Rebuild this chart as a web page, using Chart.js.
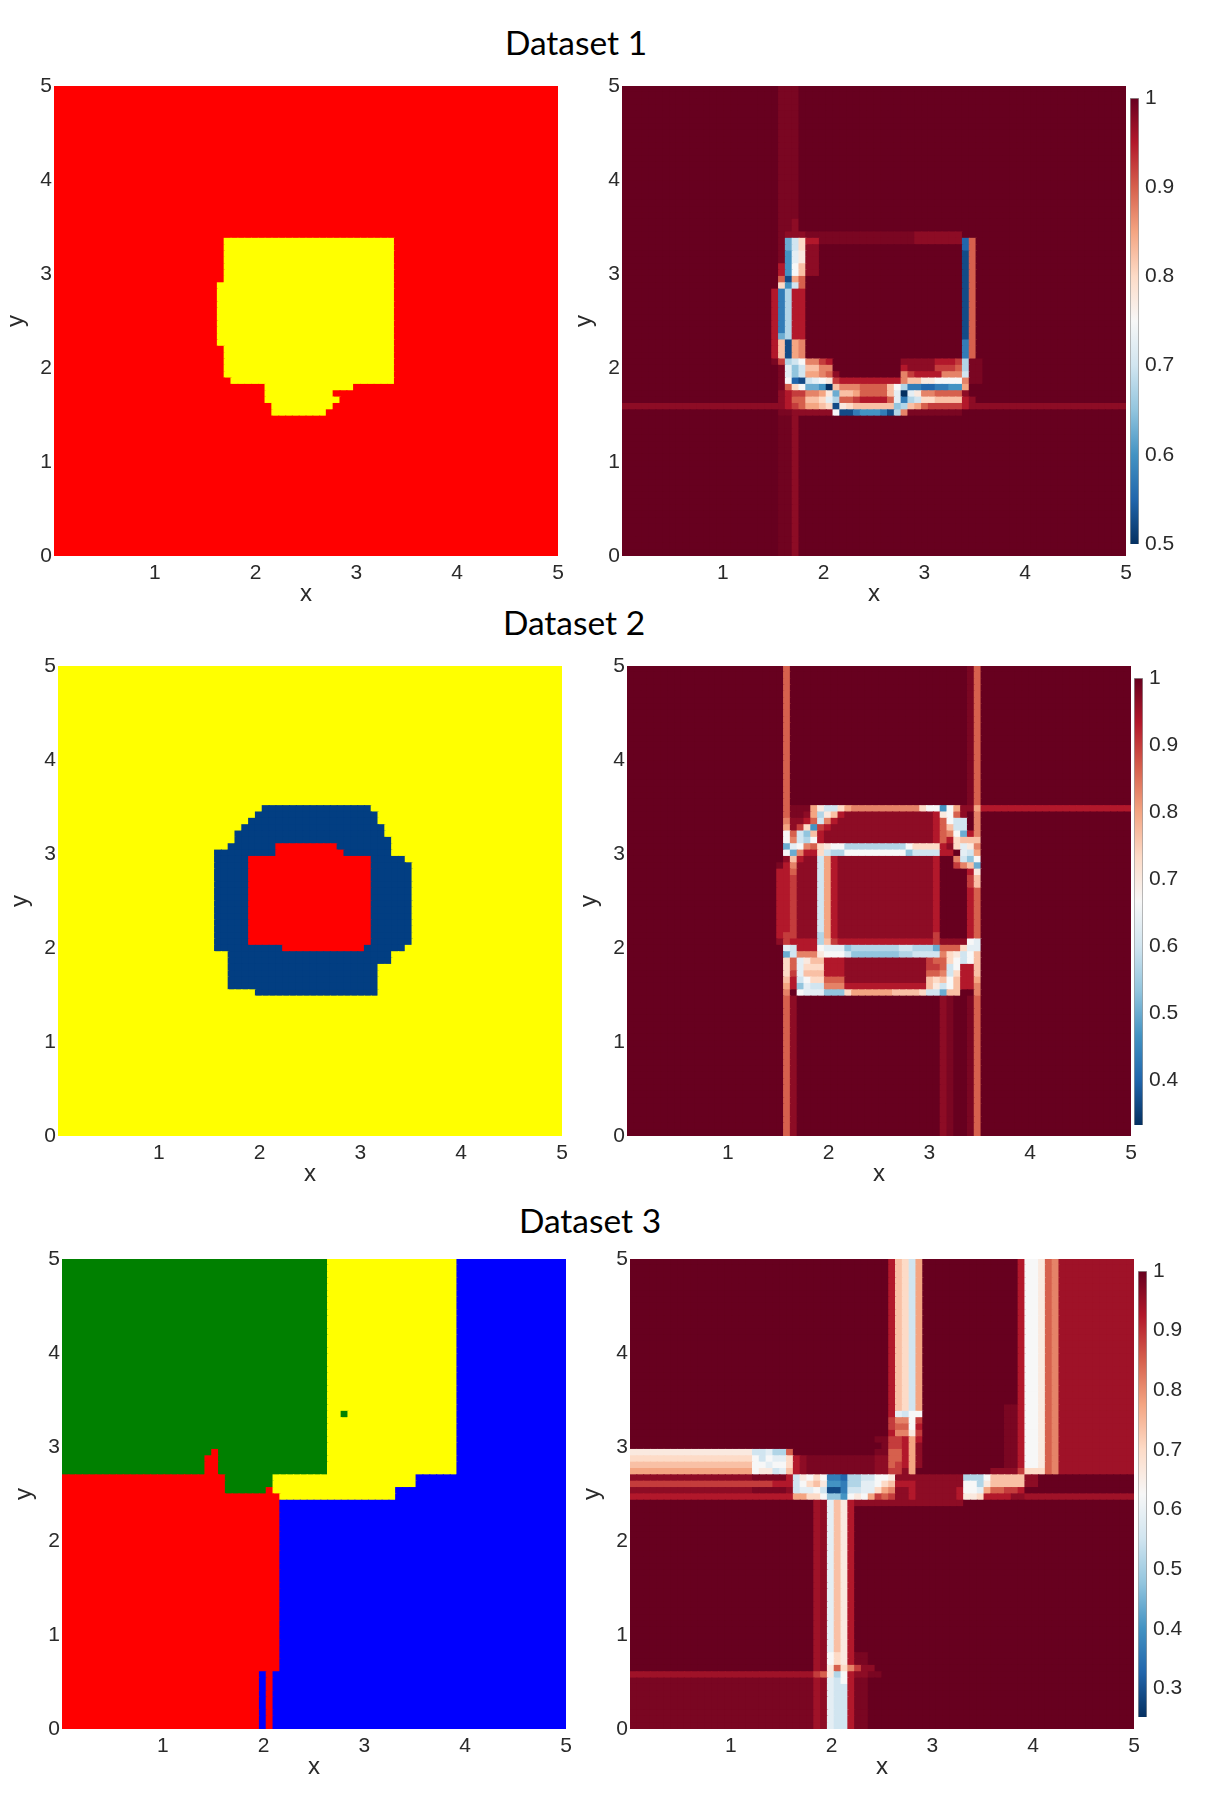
<!DOCTYPE html>
<html>
<head>
<meta charset="utf-8">
<title>Dataset 1-3 heatmaps</title>
<script src="https://cdn.jsdelivr.net/npm/chart.js@4"></script>
<style>
  body { margin: 0; background: #fff; width: 1221px; height: 1802px; position: relative; overflow: hidden; }
  canvas { position: absolute; }
  .title { position: absolute; transform: translate(-50%, -50%); font: 33.5px Lato, sans-serif; color: #000; white-space: nowrap; }
</style>
</head>
<body>
<div class="title" style="left:576px;top:42px">Dataset 1</div>
<div class="title" style="left:574px;top:622px">Dataset 2</div>
<div class="title" style="left:590px;top:1220px">Dataset 3</div>
<script>
// grid rows are [repeat, "letter+count ..."], top row first, 74 cells per row
const GRID = 74;
const AXIS_MAX = 5;

// class letters: r red, y yellow, n navy, g green, b blue
const classRows1 = [
  [24, "r74"], [7, "r25y25r24"], [10, "r24y26r24"], [5, "r25y25r24"],
  [1, "r26y24r24"], [1, "r31y13r30"], [1, "r31y10r33"], [1, "r31y11r32"],
  [1, "r32y9r33"], [1, "r32y8r34"], [22, "r74"],
];
const classRows2 = [
  [22, "y74"], [1, "y30n16y28"], [1, "y29n18y27"], [1, "y28n19y27"],
  [1, "y27n21y26"], [1, "y26n22y26"], [1, "y26n23y25"], [1, "y25n7r9n8y25"],
  [1, "y23n9r10n7y25"], [1, "y23n5r18n5y23"], [13, "y23n5r18n6y22"],
  [1, "y23n10r12n6y23"], [2, "y25n24y25"], [4, "y25n22y27"], [1, "y29n18y27"], [22, "y74"],
];
const classRows3 = [
  [24, "g39y19b16"], [1, "g39y2g1y16b16"], [5, "g39y19b16"], [1, "g22r1g16y19b16"],
  [3, "g21r2g16y19b16"], [2, "r24g7y21b22"], [1, "r24g6r1y18b25"], [1, "r32y17b25"],
  [27, "r32b42"], [9, "r29b1r1b43"],
];

// score letters: a (lowest) .. u (1), v, w and x sit between the upper steps
const scoreRows1 = [
  [21, "u23v3u48"], [2, "u23v2tu48"], [1, "u23vt3v16t7u24"],
  [1, "u23vfims2v14t7cqu22"], [1, "u23vfimt2u21cqu22"], [2, "u23vejlt2u21bqu22"],
  [2, "u23seknt2u21bqu22"], [1, "u23qboqu23bqu22"], [1, "u23meiqu23bqu22"],
  [7, "u22sdhs2u23bqu22"], [1, "u22sfhs2u23bqu22"], [3, "u22snbopu23dqu22"],
  [1, "u22vrhikp2rsu10t5s3rhv2u21"], [1, "u23vjgin2p2u10st4r3qhv2u21"],
  [1, "u23vjgio2pqtu9prs4p3iv2u21"], [1, "u23vkcbijklrs9pn2l2k4pv2u21"],
  [1, "u23vqmkf2eanp3q4nkhd2c2d2e2ou23"], [1, "u23tsr2p2olfn2oq4njajlp2q4tu23"],
  [1, "u23tsq2n2mjhq2rs4qjdhim2n4stu22"], [1, "t24srqo2nmblmn6ghnoqr5st23"],
  [1, "u23v2t6kb2de3dbhpv8u24"], [22, "u23x2tu48"],
];
const scoreRows2 = [
  [22, "u23qu26vqu22"], [1, "u23qv3oli2mop10mk2ekot2os22"], [1, "u23qv2tohlnst13slkqtupu22"],
  [1, "u23pt2sqipst14sqki2upu22"], [1, "u23otrmerst15sqni2upu22"], [1, "u23kqignst16sqpkfspu22"],
  [1, "u23kpihkst16sqsmn3u22"], [1, "u23fjkpqmlk2h9km4stmjlpu22"], [1, "u23kfps2mih2k9gi4s2ujiou22"],
  [1, "u23tnst2iost14su2pigku22"], [1, "u22vspt3iost14su2rpnfu22"], [1, "u22s2qt3iost14su4slu22"],
  [2, "u22s2rt3iost14su4rnu22"], [7, "u22s2rt3iost14su4squ22"], [1, "u22sr2t3host14ru4squ22"],
  [1, "u22trs4hnrs14rt4kju22"], [1, "u23jis3kj3gh7i2h3fq3mj2u22"], [1, "u23fip3lk3ig7h2i4pmliknu22"],
  [1, "u23mqjln2s3t12rq2mkiknu22"], [1, "u23mqjmm2s3t12r2qiks2nu22"], [1, "u23mrjnn2s3t12q2pims2nu22"],
  [1, "u23nsikm2q3t12nmnkns2ou22"], [1, "u23osgji2p3s12nlikns2pu22"], [1, "u23pukj3g3mo6n4mi2fn2u2pu22"],
  [22, "u23qtu21tvu2vqu22"],
];
const scoreRows3 = [
  [23, "u38snmiou14sk2lqpw11"], [1, "u38snmiou12v2sk2lqpw11"], [1, "u38sjikku12v2sk2lqpw11"],
  [1, "u38rp2kru12v2sk2lqpw11"], [1, "u38rq2ksu12v2sk2lqpw11"], [1, "u38sp2lru12v2sk2lqpw11"],
  [1, "u36v2r2sosu12v2sk2lqpw11"], [1, "u37vr2sotu12v2sk2lqpw11"],
  [1, "l18i2jh2qu12v2q2sotu12v2sk2lqpw11"], [1, "m18kikj2mstv10t2q2sotu12v2sk2lqpw11"],
  [1, "n18k2jk2mstv10t2qrsotu12v2sk2lqpw11"], [1, "o18kl2ijnstv10t2r2touu10t4rm3qpw11"],
  [1, "t18v5silkmkd2ch2i2k2lt10h3kn5t2u14"], [1, "r21s3ikmnle2dh2j2kmns3t7k2hln5t2u14"],
  [1, "t18v5tij2kib2di2j2mopt2st6sk2joq2r2su16"], [1, "s24o2m2kg2eklkorqrt2st6sl2ms4t2w16"],
  [1, "u27wtjnlst16u25"], [23, "u27wtjnlsu41"], [2, "u27wtkmlsv2u39"], [1, "u27wtlqmprt2u38"],
  [1, "w27rqlhkst2v2u37"], [1, "v27wtjiksv2u39"], [7, "v27wtjiisv2u39"],
];

const scoreMins = [0.5, 0.333, 0.2524];
const colorbarTicks1 = [0.5, 0.6, 0.7, 0.8, 0.9, 1];
const colorbarTicks2 = [0.4, 0.5, 0.6, 0.7, 0.8, 0.9, 1];
const colorbarTicks3 = [0.3, 0.4, 0.5, 0.6, 0.7, 0.8, 0.9, 1];
const axisTicks = [0, 1, 2, 3, 4, 5];

const classColors = { r: "#ff0000", y: "#ffff00", n: "#023e82", g: "#008000", b: "#0000ff" };
const rdbu = [
  [5, 48, 97], [33, 102, 172], [67, 147, 195], [146, 197, 222], [209, 229, 240], [247, 247, 247],
  [253, 219, 199], [244, 165, 130], [214, 96, 77], [178, 24, 43], [103, 0, 31],
];
const rgb = (c) => `rgb(${c[0]}, ${c[1]}, ${c[2]})`;
const rdbuColor = (t) => {
  const pos = Math.min(Math.max(t, 0), 1) * (rdbu.length - 1);
  const i = Math.min(Math.floor(pos), rdbu.length - 2);
  const f = pos - i;
  return rgb(rdbu[i].map((v, k) => Math.round(v + (rdbu[i + 1][k] - v) * f)));
};

const scoreLetters = "abcdefghijklmnopqrstu";
const extraLevels = { v: 0.975, w: 0.925, x: 0.988 };
const letterLevel = (l) => (l in extraLevels ? extraLevels[l] : scoreLetters.indexOf(l) / 20);

const expandRow = (text) => {
  const out = [];
  for (const m of text.matchAll(/([a-z])(\d*)/g)) {
    for (let i = 0; i < (m[2] ? +m[2] : 1); i++) out.push(m[1]);
  }
  if (out.length !== GRID) throw new Error("bad row " + text + " " + out.length);
  return out;
};

const buildCells = (rows, colorOf) => {
  const step = AXIS_MAX / GRID;
  const data = [];
  const colors = [];
  let r = 0;
  rows.forEach(([count, text]) => {
    const letters = expandRow(text);
    for (let n = 0; n < count; n++, r++) {
      letters.forEach((l, c) => {
        data.push({ x: (c + 0.5) * step, y: [AXIS_MAX - (r + 1) * step, AXIS_MAX - r * step] });
        colors.push(colorOf(l));
      });
    }
  });
  if (r !== GRID) throw new Error("bad row count " + r);
  return { data, colors };
};

const TICK_FONT = { family: "'Liberation Sans', Arial, sans-serif", size: 21 };
const TITLE_FONT = { family: "'Liberation Sans', Arial, sans-serif", size: 24 };
const TEXT_COLOR = "#2a2a2a";
const MARGIN = { left: 54, top: 20, right: 40, bottom: 56 };
const PLOT_W = 504;
const PLOT_H = 470;

const addCanvas = (left, top, width, height) => {
  const canvas = document.createElement("canvas");
  canvas.width = width;
  canvas.height = height;
  canvas.style.left = left + "px";
  canvas.style.top = top + "px";
  document.body.appendChild(canvas);
  return canvas;
};

const drawHeatmap = (plotLeft, plotTop, rows, colorOf) => {
  const canvas = addCanvas(plotLeft - MARGIN.left, plotTop - MARGIN.top, MARGIN.left + PLOT_W + MARGIN.right, MARGIN.top + PLOT_H + MARGIN.bottom);
  const { data, colors } = buildCells(rows, colorOf);
  return new Chart(canvas, {
    type: "bar",
    data: {
      datasets: [{ data, backgroundColor: colors, barPercentage: 1, categoryPercentage: 1, borderWidth: 0, inflateAmount: 0.6 }],
    },
    options: {
      responsive: false,
      animation: false,
      events: [],
      layout: { padding: { top: MARGIN.top, right: MARGIN.right, left: 0, bottom: 0 } },
      plugins: { legend: { display: false }, tooltip: { enabled: false } },
      scales: {
        x: {
          type: "linear",
          offset: false,
          min: 0,
          max: AXIS_MAX,
          afterBuildTicks: (s) => { s.ticks = axisTicks.map((value) => ({ value })); },
          afterFit: (s) => { s.height = MARGIN.bottom; },
          grid: { display: false, drawTicks: false },
          border: { display: false },
          ticks: {
            padding: 5,
            maxRotation: 0,
            autoSkip: false,
            color: TEXT_COLOR,
            font: TICK_FONT,
            callback: (v) => (v === 0 ? "" : String(v)),
          },
          title: { display: true, text: "x", color: TEXT_COLOR, font: TITLE_FONT, padding: { top: 0, bottom: 3.6 } },
        },
        y: {
          type: "linear",
          min: 0,
          max: AXIS_MAX,
          afterBuildTicks: (s) => { s.ticks = axisTicks.map((value) => ({ value })); },
          afterFit: (s) => { s.width = MARGIN.left; },
          grid: { display: false, drawTicks: false },
          border: { display: false },
          ticks: { padding: 2, autoSkip: false, color: TEXT_COLOR, font: TICK_FONT, callback: (v) => String(v) },
          title: { display: true, text: "y", color: TEXT_COLOR, font: TITLE_FONT, padding: { top: 2, bottom: 0 } },
        },
      },
    },
  });
};

const drawColorbar = (barLeft, barTop, barBottom, zMin, ticks) => {
  const pad = 24;
  const barWidth = 9;
  const canvas = addCanvas(barLeft, barTop - pad, barWidth + 60, barBottom - barTop + pad * 2);
  return new Chart(canvas, {
    type: "bar",
    data: {
      labels: [""],
      datasets: [{
        data: [[zMin, 1]],
        barPercentage: 1,
        categoryPercentage: 1,
        borderWidth: 1,
        borderColor: "rgba(70, 70, 70, 0.55)",
        backgroundColor: (context) => {
          const area = context.chart.chartArea;
          if (!area) return "#000";
          const g = context.chart.ctx.createLinearGradient(0, area.bottom, 0, area.top);
          rdbu.forEach((c, i) => g.addColorStop(i / (rdbu.length - 1), rgb(c)));
          return g;
        },
      }],
    },
    options: {
      responsive: false,
      animation: false,
      events: [],
      layout: { padding: { top: pad, bottom: pad, left: 0, right: 0 } },
      plugins: { legend: { display: false }, tooltip: { enabled: false } },
      scales: {
        x: { display: false },
        y: {
          position: "right",
          min: zMin,
          max: 1,
          afterBuildTicks: (s) => { s.ticks = ticks.map((value) => ({ value })); },
          afterFit: (s) => { s.width = 60; },
          grid: { display: false, drawTicks: false },
          border: { display: false },
          ticks: { padding: 6, autoSkip: false, color: TEXT_COLOR, font: TICK_FONT, callback: (v) => String(v) },
        },
      },
    },
  });
};

const classColor = (l) => classColors[l];
const scoreColor = (zMin) => (l) => {
  const z = zMin + letterLevel(l) * (1 - zMin);
  return rdbuColor((z - zMin) / (1 - zMin));
};

drawHeatmap(54, 86, classRows1, classColor);
drawHeatmap(622, 86, scoreRows1, scoreColor(scoreMins[0]));
drawColorbar(1130, 98, 544, scoreMins[0], colorbarTicks1);

drawHeatmap(58, 666, classRows2, classColor);
drawHeatmap(627, 666, scoreRows2, scoreColor(scoreMins[1]));
drawColorbar(1134, 678, 1125, scoreMins[1], colorbarTicks2);

drawHeatmap(62, 1259, classRows3, classColor);
drawHeatmap(630, 1259, scoreRows3, scoreColor(scoreMins[2]));
drawColorbar(1138, 1271, 1717, scoreMins[2], colorbarTicks3);
</script>
</body>
</html>
